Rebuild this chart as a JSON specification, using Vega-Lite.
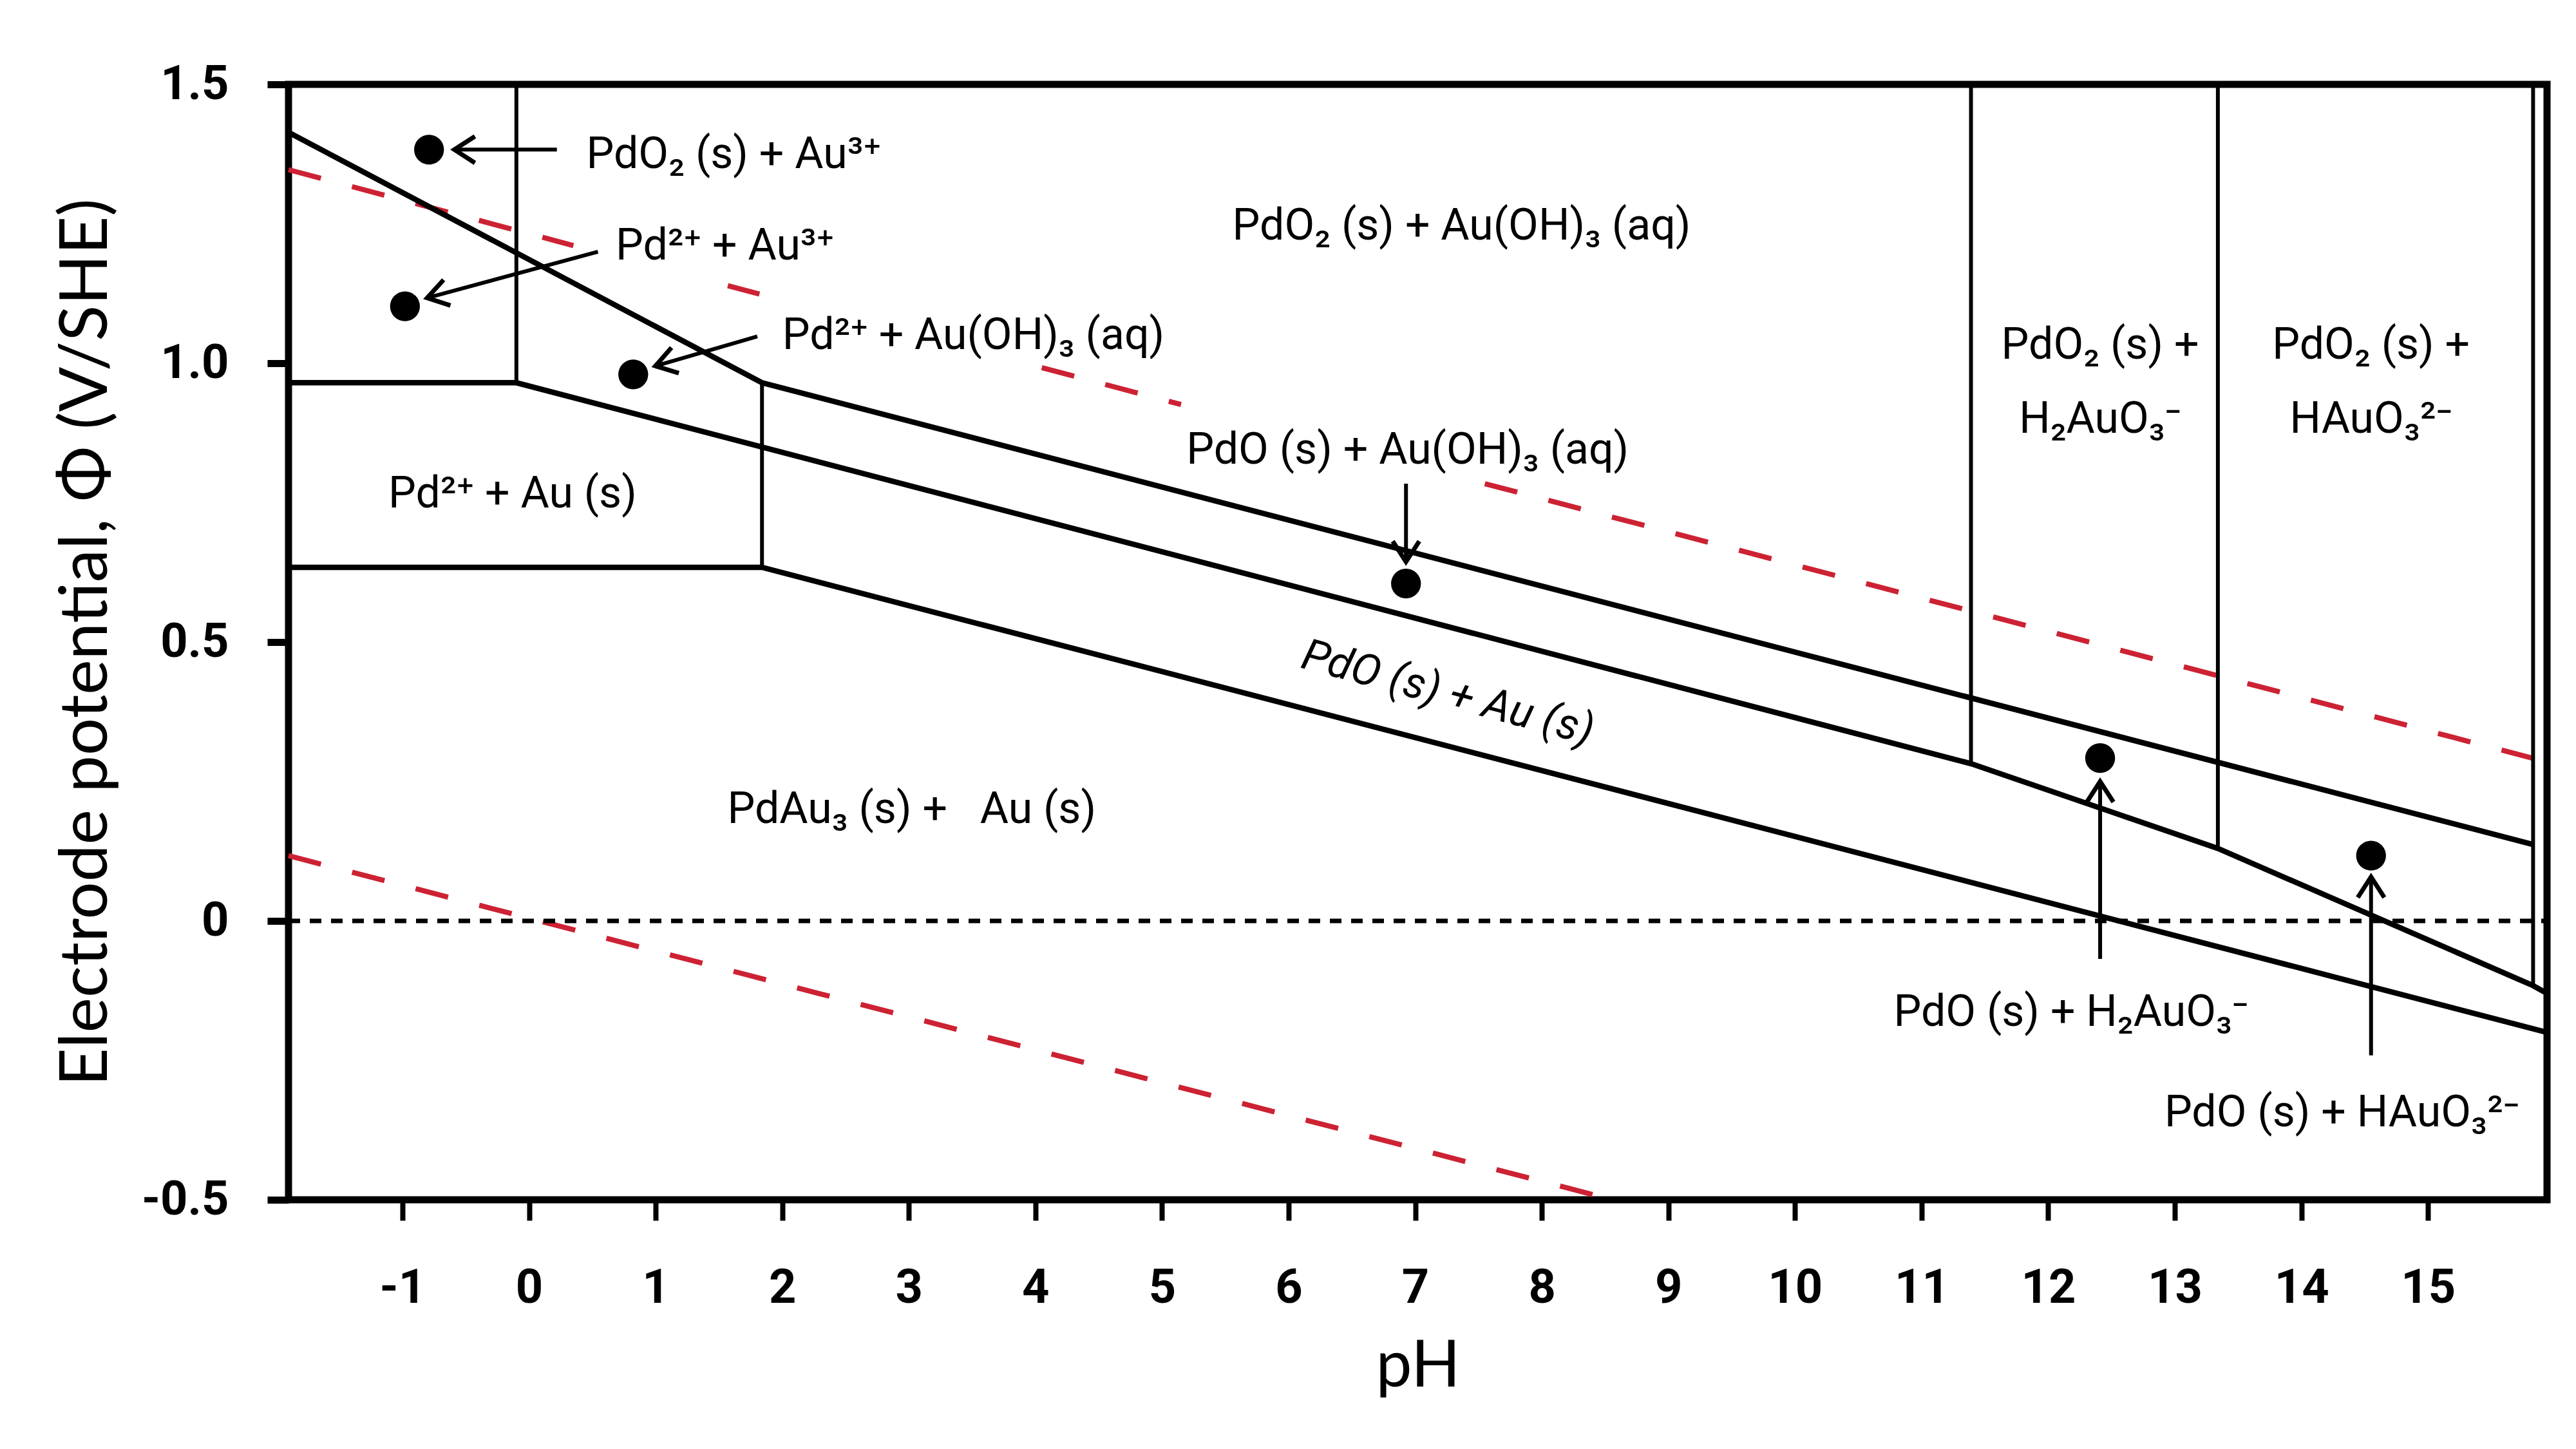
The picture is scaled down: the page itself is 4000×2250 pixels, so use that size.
{
  "$schema": "https://vega.github.io/schema/vega-lite/v6.json",
  "autosize": "none",
  "width": 3507,
  "height": 1732,
  "padding": {"left": 448, "top": 131, "right": 45, "bottom": 387},
  "background": "white",
  "config": {
    "view": {"stroke": "black", "strokeWidth": 11},
    "axis": {"grid": false, "domain": false, "tickColor": "black", "labelColor": "black", "titleColor": "black"}
  },
  "datasets": {
    "bounds": [
      {"s": "a", "o": 1, "x": -1.9, "y": 1.414},
      {"s": "a", "o": 2, "x": 1.84, "y": 0.965},
      {"s": "a", "o": 3, "x": 15.83, "y": 0.137},
      {"s": "b", "o": 1, "x": -1.9, "y": 0.965},
      {"s": "b", "o": 2, "x": -0.1, "y": 0.965},
      {"s": "b", "o": 3, "x": 11.39, "y": 0.282},
      {"s": "b", "o": 4, "x": 13.34, "y": 0.13},
      {"s": "b", "o": 5, "x": 15.83, "y": -0.116},
      {"s": "b", "o": 6, "x": 15.94, "y": -0.13},
      {"s": "c", "o": 1, "x": -1.9, "y": 0.634},
      {"s": "c", "o": 2, "x": 1.84, "y": 0.634},
      {"s": "c", "o": 3, "x": 15.94, "y": -0.2}
    ],
    "verticals": [
      {"s": "v1", "o": 1, "x": -0.1, "y": 1.5},
      {"s": "v1", "o": 2, "x": -0.1, "y": 0.965},
      {"s": "v2", "o": 1, "x": 1.84, "y": 0.965},
      {"s": "v2", "o": 2, "x": 1.84, "y": 0.634},
      {"s": "v3", "o": 1, "x": 11.39, "y": 1.5},
      {"s": "v3", "o": 2, "x": 11.39, "y": 0.282},
      {"s": "v4", "o": 1, "x": 13.34, "y": 1.5},
      {"s": "v4", "o": 2, "x": 13.34, "y": 0.13},
      {"s": "v5", "o": 1, "x": 15.83, "y": 1.5},
      {"s": "v5", "o": 2, "x": 15.83, "y": -0.116}
    ],
    "water": [
      {"s": "o1", "o": 1, "x": -1.9, "y": 1.347},
      {"s": "o1", "o": 2, "x": 0.35, "y": 1.211},
      {"s": "o2", "o": 1, "x": 1.57, "y": 1.139},
      {"s": "o2", "o": 2, "x": 1.82, "y": 1.124},
      {"s": "o3", "o": 1, "x": 4.05, "y": 0.992},
      {"s": "o3", "o": 2, "x": 5.15, "y": 0.926},
      {"s": "o4", "o": 1, "x": 7.55, "y": 0.784},
      {"s": "o4", "o": 2, "x": 15.94, "y": 0.285},
      {"s": "h", "o": 1, "x": -1.9, "y": 0.117},
      {"s": "h", "o": 2, "x": 8.56, "y": -0.5}
    ],
    "zero": [
      {"x": -1.9, "y": 0},
      {"x": 15.94, "y": 0}
    ],
    "dots": [
      {"x": -0.79, "y": 1.383},
      {"x": -0.98, "y": 1.102},
      {"x": 0.823, "y": 0.98},
      {"x": 6.927, "y": 0.605},
      {"x": 12.41, "y": 0.292},
      {"x": 14.55, "y": 0.117}
    ],
    "arrows": [
      {"x": 0.22, "y": 1.383, "x2": -0.59, "y2": 1.383, "dir": "left"},
      {"x": 0.544, "y": 1.2, "x2": -0.805, "y2": 1.117, "dir": "a2"},
      {"x": 1.803, "y": 1.048, "x2": 0.998, "y2": 0.995, "dir": "a3"},
      {"x": 6.927, "y": 0.784, "x2": 6.927, "y2": 0.644, "dir": "down"},
      {"x": 12.41, "y": -0.068, "x2": 12.41, "y2": 0.25, "dir": "up"},
      {"x": 14.55, "y": -0.241, "x2": 14.55, "y2": 0.079, "dir": "up"}
    ],
    "labelsLeft": [
      {"x": 0.453, "y": 1.35, "t": "PdO₂ (s) + Au³⁺"},
      {"x": 0.684, "y": 1.186, "t": "Pd²⁺ + Au³⁺"},
      {"x": 2.0, "y": 1.025, "t": "Pd²⁺ + Au(OH)₃ (aq)"}
    ],
    "labelsCenter": [
      {"x": 7.366, "y": 1.222, "t": "PdO₂ (s) + Au(OH)₃ (aq)"},
      {"x": 6.94, "y": 0.82, "t": "PdO (s) + Au(OH)₃ (aq)"},
      {"x": -0.13, "y": 0.741, "t": "Pd²⁺ + Au (s)"},
      {"x": 3.023, "y": 0.175, "t": "PdAu₃ (s) +\u00a0\u00a0 Au (s)"},
      {"x": 12.41, "y": 1.008, "t": "PdO₂ (s) +"},
      {"x": 12.41, "y": 0.8755, "t": "H₂AuO₃⁻"},
      {"x": 14.55, "y": 1.008, "t": "PdO₂ (s) +"},
      {"x": 14.55, "y": 0.8755, "t": "HAuO₃²⁻"},
      {"x": 12.18, "y": -0.188, "t": "PdO (s) + H₂AuO₃⁻"},
      {"x": 14.32, "y": -0.368, "t": "PdO (s) + HAuO₃²⁻"}
    ],
    "labelsItalic": [
      {"x": 7.23, "y": 0.385, "t": "PdO (s) + Au (s)"}
    ]
  },
  "encoding": {
    "x": {
      "field": "x", "type": "quantitative",
      "scale": {"domain": [-1.9, 15.94], "nice": false, "zero": false},
      "axis": {
        "orient": "bottom",
        "values": [-1, 0, 1, 2, 3, 4, 5, 6, 7, 8, 9, 10, 11, 12, 13, 14, 15],
        "labelExpr": "toString(datum.value)",
        "labelFont": "Roboto", "labelFontWeight": "bold", "labelFontSize": 74,
        "tickSize": 32, "tickWidth": 8, "labelPadding": 69,
        "title": "pH", "titleFont": "Lato", "titleFontWeight": "normal", "titleFontSize": 100, "titlePadding": 36
      }
    },
    "y": {
      "field": "y", "type": "quantitative",
      "scale": {"domain": [-0.5, 1.5], "nice": false, "zero": false},
      "axis": {
        "orient": "left",
        "values": [-0.5, 0, 0.5, 1, 1.5],
        "labelExpr": "datum.value === 1 ? '1.0' : toString(datum.value)",
        "labelFont": "Roboto", "labelFontWeight": "bold", "labelFontSize": 74,
        "tickSize": 33, "tickWidth": 11, "labelPadding": 60,
        "title": "Electrode potential, Φ (V/SHE)", "titleFont": "Lato", "titleFontWeight": "normal", "titleFontSize": 103, "titlePadding": 61
      }
    }
  },
  "layer": [
    {
      "data": {"name": "water"},
      "mark": {"type": "line", "color": "#cc2233", "strokeWidth": 8, "strokeDash": [52, 50]},
      "encoding": {"detail": {"field": "s"}, "order": {"field": "o"}}
    },
    {
      "data": {"name": "zero"},
      "mark": {"type": "line", "color": "black", "strokeWidth": 7, "strokeDash": [18, 15]},
      "encoding": {}
    },
    {
      "data": {"name": "bounds"},
      "mark": {"type": "line", "color": "black", "strokeWidth": 8.5},
      "encoding": {"detail": {"field": "s"}, "order": {"field": "o"}}
    },
    {
      "data": {"name": "verticals"},
      "mark": {"type": "line", "color": "black", "strokeWidth": 6},
      "encoding": {"detail": {"field": "s"}, "order": {"field": "o"}}
    },
    {
      "data": {"name": "arrows"},
      "mark": {"type": "rule", "color": "black", "strokeWidth": 6},
      "encoding": {"x2": {"field": "x2"}, "y2": {"field": "y2"}}
    },
    {
      "data": {"name": "arrows"},
      "transform": [{"filter": "datum.dir === 'left'"}],
      "mark": {"type": "point", "shape": "M-1.55,-1L0,0L-1.55,1", "filled": false, "stroke": "black", "strokeWidth": 7, "size": 1700, "angle": 180, "opacity": 1},
      "encoding": {"x": {"field": "x2"}, "y": {"field": "y2"}}
    },
    {
      "data": {"name": "arrows"},
      "transform": [{"filter": "datum.dir === 'a2'"}],
      "mark": {"type": "point", "shape": "M-1.55,-1L0,0L-1.55,1", "filled": false, "stroke": "black", "strokeWidth": 7, "size": 1700, "angle": 165, "opacity": 1},
      "encoding": {"x": {"field": "x2"}, "y": {"field": "y2"}}
    },
    {
      "data": {"name": "arrows"},
      "transform": [{"filter": "datum.dir === 'a3'"}],
      "mark": {"type": "point", "shape": "M-1.55,-1L0,0L-1.55,1", "filled": false, "stroke": "black", "strokeWidth": 7, "size": 1700, "angle": 164, "opacity": 1},
      "encoding": {"x": {"field": "x2"}, "y": {"field": "y2"}}
    },
    {
      "data": {"name": "arrows"},
      "transform": [{"filter": "datum.dir === 'down'"}],
      "mark": {"type": "point", "shape": "M-1.55,-1L0,0L-1.55,1", "filled": false, "stroke": "black", "strokeWidth": 7, "size": 1700, "angle": 90, "opacity": 1},
      "encoding": {"x": {"field": "x2"}, "y": {"field": "y2"}}
    },
    {
      "data": {"name": "arrows"},
      "transform": [{"filter": "datum.dir === 'up'"}],
      "mark": {"type": "point", "shape": "M-1.55,-1L0,0L-1.55,1", "filled": false, "stroke": "black", "strokeWidth": 7, "size": 1700, "angle": 270, "opacity": 1},
      "encoding": {"x": {"field": "x2"}, "y": {"field": "y2"}}
    },
    {
      "data": {"name": "dots"},
      "mark": {"type": "point", "shape": "circle", "filled": true, "color": "black", "size": 2150, "opacity": 1},
      "encoding": {}
    },
    {
      "data": {"name": "labelsLeft"},
      "mark": {"type": "text", "align": "left", "baseline": "alphabetic", "font": "Roboto", "fontSize": 68, "color": "black"},
      "encoding": {"text": {"field": "t"}}
    },
    {
      "data": {"name": "labelsCenter"},
      "mark": {"type": "text", "align": "center", "baseline": "alphabetic", "font": "Roboto", "fontSize": 68, "color": "black"},
      "encoding": {"text": {"field": "t"}}
    },
    {
      "data": {"name": "labelsItalic"},
      "mark": {"type": "text", "align": "center", "baseline": "alphabetic", "font": "Roboto", "fontStyle": "italic", "fontSize": 68, "angle": 15, "color": "black"},
      "encoding": {"text": {"field": "t"}}
    }
  ]
}
